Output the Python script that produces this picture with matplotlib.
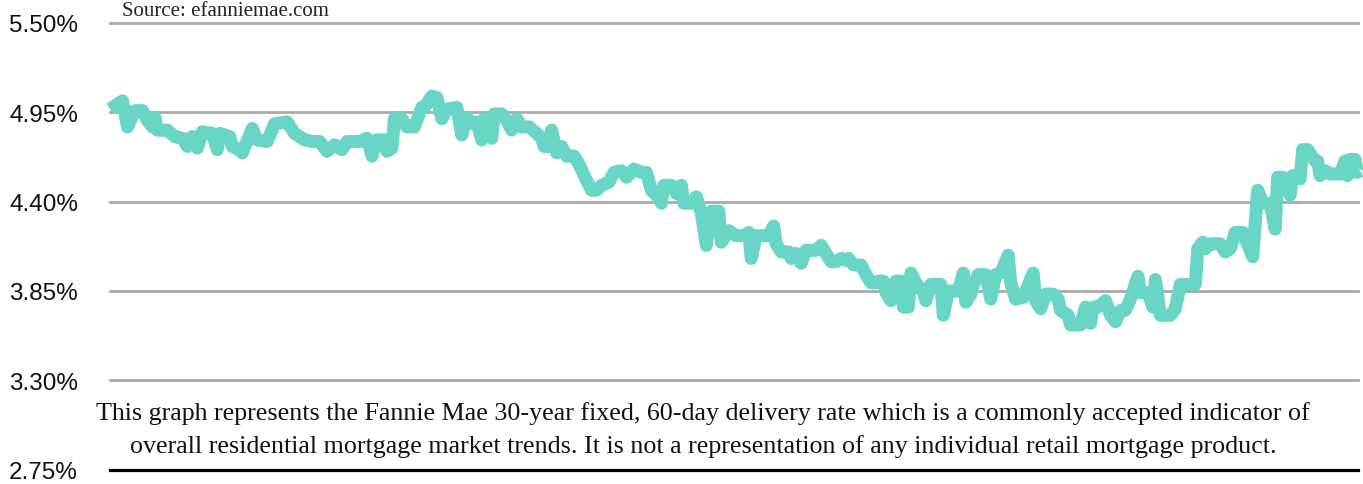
import matplotlib
matplotlib.use("Agg")
import matplotlib.pyplot as plt

# ---- data ----
day = [0, 5, 7, 10, 13, 15, 17, 18, 19, 23, 26, 29, 31, 33, 35, 37, 41, 43, 44, 48,
       49, 52, 53, 57, 59, 63, 66, 71, 74, 78, 81, 84, 87, 90, 93, 95, 100, 103, 105, 107,
       110, 111, 113, 114, 117, 119, 122, 125, 126, 129, 131, 133, 135, 139, 141, 143, 145, 147, 149, 150,
       153, 154, 157, 159, 161, 163, 165, 168, 171, 173, 174, 176, 177, 179, 181, 183, 186, 188, 191, 193,
       195, 197, 200, 202, 205, 207, 210, 213, 215, 217, 219, 221, 222, 225, 227, 229, 230, 233, 235, 237,
       239, 241, 244, 245, 248, 251, 254, 256, 257, 259, 264, 266, 267, 269, 272, 273, 275, 277, 279, 283,
       285, 287, 289, 291, 293, 295, 296, 298, 301, 303, 305, 307, 308, 310, 311, 313, 315, 317, 318, 320,
       321, 323, 325, 326, 327, 329, 333, 334, 336, 340, 342, 343, 345, 346, 348, 351, 353, 355, 357, 360,
       361, 363, 366, 370, 371, 373, 375, 378, 380, 381, 384, 385, 389, 391, 393, 394, 396, 399, 401, 403,
       405, 407, 409, 412, 413, 416, 418, 419, 421, 425, 427, 429, 435, 436, 438, 439, 441, 445, 447, 449,
       451, 454, 458, 460, 462, 465, 467, 468, 470, 473, 474, 477, 478, 480, 483, 484, 485, 487, 489, 493,
       495, 496, 497, 499, 500, 501]
rate = [4.97, 5.02, 4.86, 4.96, 4.96, 4.90, 4.86, 4.92, 4.84, 4.84, 4.80, 4.79, 4.74, 4.80, 4.73, 4.83, 4.82, 4.72, 4.82, 4.80,
        4.74, 4.72, 4.70, 4.85, 4.78, 4.77, 4.88, 4.89, 4.82, 4.78, 4.77, 4.77, 4.71, 4.75, 4.72, 4.77, 4.77, 4.79, 4.68, 4.78,
        4.78, 4.71, 4.73, 4.91, 4.91, 4.86, 4.86, 4.98, 4.98, 5.05, 5.04, 4.91, 4.97, 4.98, 4.81, 4.92, 4.88, 4.89, 4.78, 4.91,
        4.79, 4.94, 4.94, 4.90, 4.84, 4.91, 4.86, 4.86, 4.82, 4.79, 4.74, 4.74, 4.84, 4.70, 4.74, 4.68, 4.68, 4.63, 4.53, 4.47,
        4.47, 4.50, 4.52, 4.58, 4.59, 4.55, 4.60, 4.58, 4.58, 4.47, 4.44, 4.39, 4.50, 4.50, 4.45, 4.50, 4.39, 4.39, 4.43, 4.33,
        4.13, 4.34, 4.34, 4.15, 4.22, 4.19, 4.19, 4.21, 4.05, 4.19, 4.19, 4.25, 4.14, 4.09, 4.09, 4.05, 4.08, 4.02, 4.10, 4.10,
        4.13, 4.08, 4.03, 4.03, 4.05, 4.04, 4.05, 4.01, 4.01, 3.95, 3.90, 3.90, 3.91, 3.91, 3.84, 3.79, 3.91, 3.91, 3.75, 3.75,
        3.96, 3.90, 3.86, 3.84, 3.79, 3.89, 3.89, 3.70, 3.85, 3.85, 3.96, 3.78, 3.83, 3.89, 3.95, 3.95, 3.80, 3.95, 3.96, 4.07,
        3.90, 3.80, 3.81, 3.96, 3.79, 3.74, 3.83, 3.83, 3.80, 3.73, 3.70, 3.64, 3.64, 3.75, 3.65, 3.75, 3.75, 3.79, 3.70, 3.66,
        3.73, 3.73, 3.80, 3.94, 3.84, 3.84, 3.75, 3.92, 3.70, 3.70, 3.74, 3.89, 3.89, 4.11, 4.15, 4.11, 4.14, 4.14, 4.09, 4.11,
        4.21, 4.21, 4.06, 4.47, 4.39, 4.39, 4.23, 4.55, 4.55, 4.44, 4.56, 4.54, 4.72, 4.72, 4.65, 4.65, 4.56, 4.59, 4.57, 4.57,
        4.65, 4.56, 4.66, 4.66, 4.58, 4.59]
y_ticks = [2.75, 3.30, 3.85, 4.40, 4.95, 5.50]
y_labels = ["2.75%", "3.30%", "3.85%", "4.40%", "4.95%", "5.50%"]
source_text = "Source: efanniemae.com"
note_lines = [
    "This graph represents the Fannie Mae 30-year fixed, 60-day delivery rate which is a commonly accepted indicator of",
    "overall residential mortgage market trends. It is not a representation of any individual retail mortgage product.",
]

W, H = 1363, 485
fig = plt.figure(figsize=(W / 100, H / 100), dpi=100)
ax = fig.add_axes([110 / W, (H - 470.5) / H, (1360 - 110) / W, (470.5 - 24) / H])
ax.set_xlim(0, max(day))
ax.set_ylim(y_ticks[0], y_ticks[-1])
for s in ax.spines.values():
    s.set_visible(False)

for v in y_ticks:
    if v == y_ticks[0]:
        ax.axhline(v, color="black", lw=2.3, xmax=1248 / 1250, zorder=1, clip_on=False)
    else:
        ax.axhline(v, color="#aaaaaa", lw=2.0, xmax=1248 / 1250, zorder=1, clip_on=False)

ax.plot(day, rate, color="#68d5c5", lw=9.4, solid_joinstyle="round",
        solid_capstyle="butt", zorder=3, clip_on=False)

ax.set_xticks([])
ax.set_yticks(y_ticks)
ax.set_yticklabels(y_labels, fontsize=17.5, family="Liberation Sans", color="#111111")
ax.tick_params(axis="y", length=0, pad=23)

fig.text(122 / W, 1 - 12 / H, source_text, family="Liberation Serif", fontsize=15,
         va="center", ha="left", color="#222222")
fig.text(703 / W, 1 - 414 / H, note_lines[0], family="Liberation Serif", fontsize=18.7,
         va="center", ha="center", color="#111111")
fig.text(703 / W, 1 - 447 / H, note_lines[1], family="Liberation Serif", fontsize=18.7,
         va="center", ha="center", color="#111111")

fig.savefig("out.png", dpi=100)
